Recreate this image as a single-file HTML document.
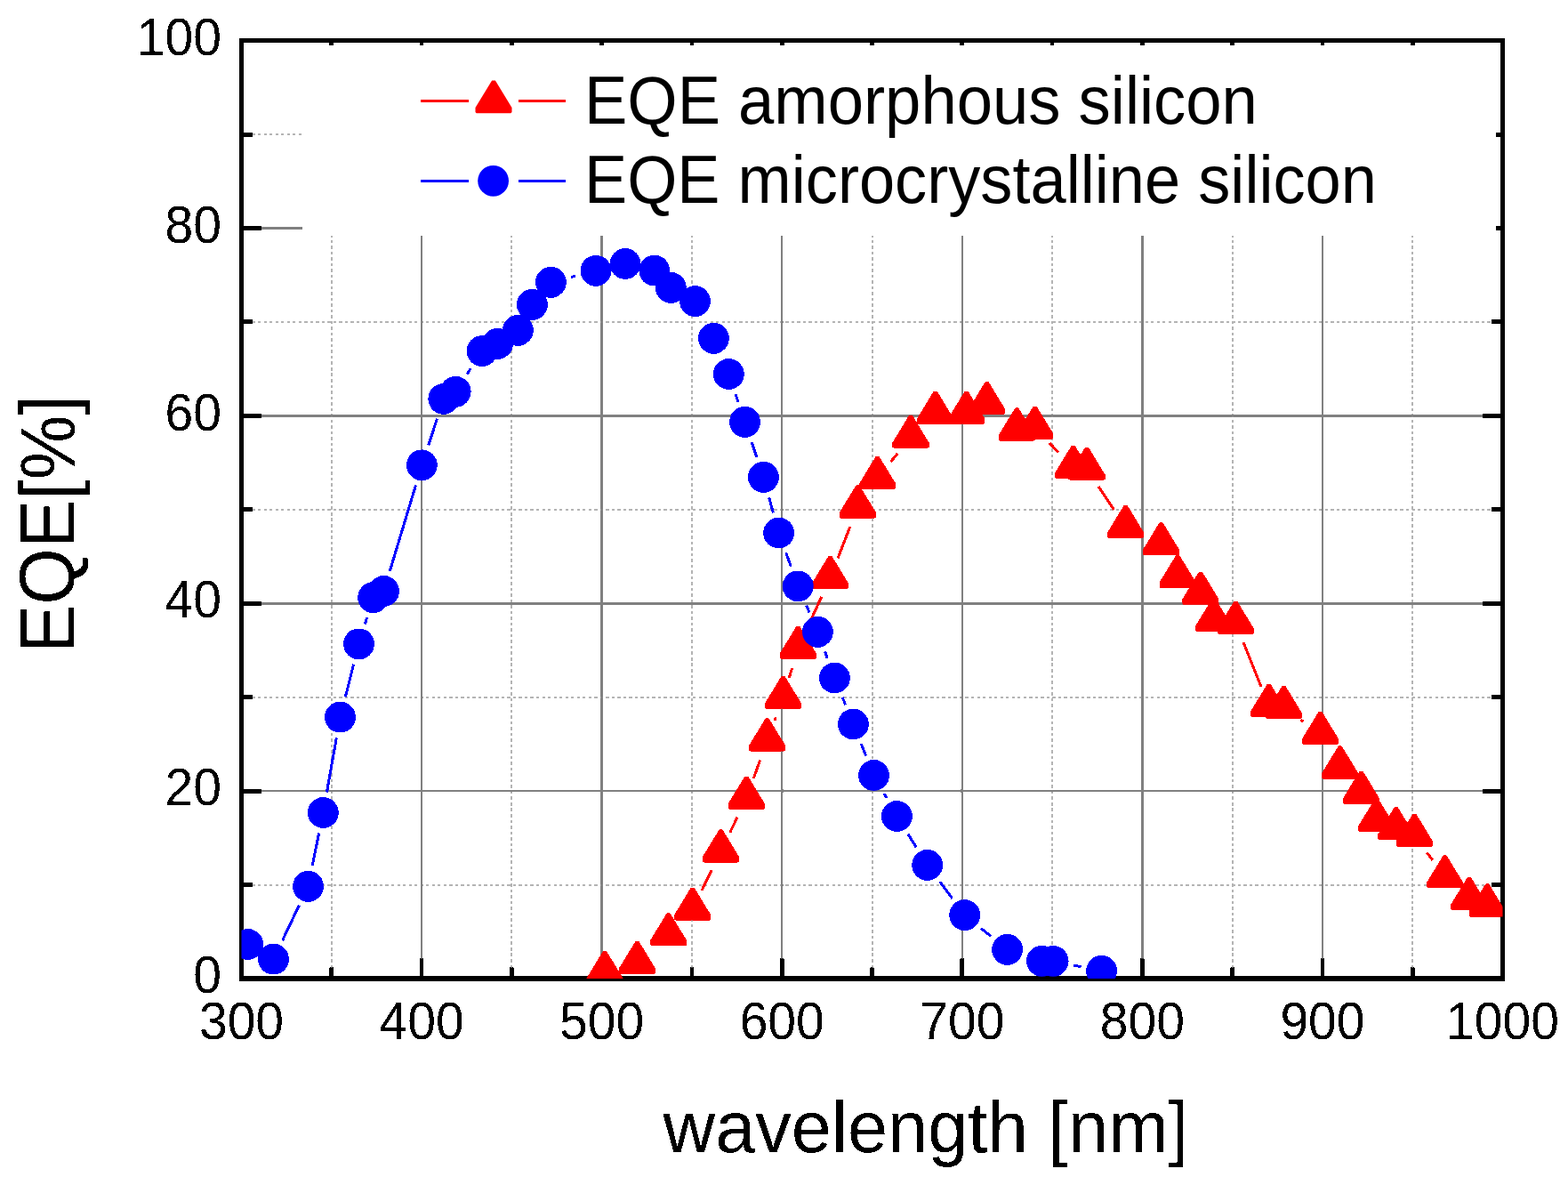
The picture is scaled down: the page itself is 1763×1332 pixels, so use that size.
<!DOCTYPE html>
<html><head><meta charset="utf-8"><title>EQE</title>
<style>html,body{margin:0;padding:0;background:#fff;}svg{display:block;}</style>
</head><body>
<svg width="1763" height="1332" viewBox="0 0 1763 1332">
<defs><filter id="bin" filterUnits="userSpaceOnUse" x="0" y="0" width="1763" height="1332"><feComponentTransfer><feFuncA type="discrete" tableValues="0 1"/></feComponentTransfer></filter><clipPath id="pc"><rect x="271.5" y="45.6" width="1418" height="1054.4"/></clipPath></defs>
<rect width="1763" height="1332" fill="#fff"/>
<g filter="url(#bin)">
<path d="M373 1100V45.6M575 1100V45.6M778 1100V45.6M981 1100V45.6M1183 1100V45.6M1386 1100V45.6M1588 1100V45.6M271.5 995H1689.5M271.5 784H1689.5M271.5 573H1689.5M271.5 362H1689.5M271.5 151H1689.5" stroke="#b4b4b4" stroke-width="2" stroke-dasharray="3.3 3.22" stroke-dashoffset="1" fill="none"/>
<path d="M474.07 45.6V1100M676.64 45.6V1100M879.21 45.6V1100M1081.79 45.6V1100M1284.36 45.6V1100M1486.93 45.6V1100M271.5 889.12H1689.5M271.5 678.24H1689.5M271.5 467.36H1689.5M271.5 256.48H1689.5" stroke="#808080" stroke-width="2.5" fill="none"/>
<path d="M271.5 1100V1077.5M271.5 45.6V68.1M372.79 1100V1087.5M372.79 45.6V58.1M474.07 1100V1077.5M474.07 45.6V68.1M575.36 1100V1087.5M575.36 45.6V58.1M676.64 1100V1077.5M676.64 45.6V68.1M777.93 1100V1087.5M777.93 45.6V58.1M879.21 1100V1077.5M879.21 45.6V68.1M980.5 1100V1087.5M980.5 45.6V58.1M1081.79 1100V1077.5M1081.79 45.6V68.1M1183.07 1100V1087.5M1183.07 45.6V58.1M1284.36 1100V1077.5M1284.36 45.6V68.1M1385.64 1100V1087.5M1385.64 45.6V58.1M1486.93 1100V1077.5M1486.93 45.6V68.1M1588.21 1100V1087.5M1588.21 45.6V58.1M1689.5 1100V1077.5M1689.5 45.6V68.1M271.5 1100H294M1689.5 1100H1667M271.5 994.56H284M1689.5 994.56H1677M271.5 889.12H294M1689.5 889.12H1667M271.5 783.68H284M1689.5 783.68H1677M271.5 678.24H294M1689.5 678.24H1667M271.5 572.8H284M1689.5 572.8H1677M271.5 467.36H294M1689.5 467.36H1667M271.5 361.92H284M1689.5 361.92H1677M271.5 256.48H294M1689.5 256.48H1667M271.5 151.04H284M1689.5 151.04H1677M271.5 45.6H294M1689.5 45.6H1667" stroke="#000" stroke-width="4.8" fill="none"/>
<rect x="340" y="51" width="1342" height="214" fill="#fff"/>
<g fill="#000"><rect x="269" y="42.9" width="1422.9" height="5.1"/><rect x="269" y="1097.05" width="1422.9" height="5.8"/><rect x="268.95" y="42.9" width="4.9" height="1059.95"/><rect x="1686.95" y="42.9" width="4.9" height="1059.95"/></g>
<g><g clip-path="url(#pc)">
<path d="M789.01 1000.98L800.19 978.12M820.7 935.83L829.1 918.37M847.21 875.07L854.69 854.13M870.87 810L872.23 806.4M887.26 761.89L890.54 751.01M907.07 707.13L923.63 670.87M941.94 627.61L955.86 591.89M1001.39 519.23L1009.21 509.57M1180.03 498.01L1190.27 508.49M1235.08 546.83L1252.52 572.87M1398.07 722.3L1417.93 771.7M1462.58 808.98L1465.32 810.92M1604.23 958.23L1610.67 966.97" stroke="#f00" stroke-width="3" fill="none"/>
<g fill="#f00"><polygon points="678.1,1068.95 681.9,1068.95 700.5,1099.5 700.5,1104.6 699.3,1105.85 660.7,1105.85 659.5,1104.6 659.5,1099.5"/><polygon points="714.5,1058.05 718.3,1058.05 736.9,1088.6 736.9,1093.7 735.7,1094.95 697.1,1094.95 695.9,1093.7 695.9,1088.6"/><polygon points="749.7,1026.45 753.5,1026.45 772.1,1057 772.1,1062.1 770.9,1063.35 732.3,1063.35 731.1,1062.1 731.1,1057"/><polygon points="776.8,997.65 780.6,997.65 799.2,1028.2 799.2,1033.3 798,1034.55 759.4,1034.55 758.2,1033.3 758.2,1028.2"/><polygon points="808.6,932.55 812.4,932.55 831,963.1 831,968.2 829.8,969.45 791.2,969.45 790,968.2 790,963.1"/><polygon points="837.4,872.75 841.2,872.75 859.8,903.3 859.8,908.4 858.6,909.65 820,909.65 818.8,908.4 818.8,903.3"/><polygon points="860.7,807.55 864.5,807.55 883.1,838.1 883.1,843.2 881.9,844.45 843.3,844.45 842.1,843.2 842.1,838.1"/><polygon points="878.6,759.95 882.4,759.95 901,790.5 901,795.6 899.8,796.85 861.2,796.85 860,795.6 860,790.5"/><polygon points="895.4,704.05 899.2,704.05 917.8,734.6 917.8,739.7 916.6,740.95 878,740.95 876.8,739.7 876.8,734.6"/><polygon points="931.5,625.05 935.3,625.05 953.9,655.6 953.9,660.7 952.7,661.95 914.1,661.95 912.9,660.7 912.9,655.6"/><polygon points="962.5,545.55 966.3,545.55 984.9,576.1 984.9,581.2 983.7,582.45 945.1,582.45 943.9,581.2 943.9,576.1"/><polygon points="984.7,513.05 988.5,513.05 1007.1,543.6 1007.1,548.7 1005.9,549.95 967.3,549.95 966.1,548.7 966.1,543.6"/><polygon points="1022.1,466.85 1025.9,466.85 1044.5,497.4 1044.5,502.5 1043.3,503.75 1004.7,503.75 1003.5,502.5 1003.5,497.4"/><polygon points="1049.8,439.75 1053.6,439.75 1072.2,470.3 1072.2,475.4 1071,476.65 1032.4,476.65 1031.2,475.4 1031.2,470.3"/><polygon points="1084.7,439.75 1088.5,439.75 1107.1,470.3 1107.1,475.4 1105.9,476.65 1067.3,476.65 1066.1,475.4 1066.1,470.3"/><polygon points="1107.7,429.15 1111.5,429.15 1130.1,459.7 1130.1,464.8 1128.9,466.05 1090.3,466.05 1089.1,464.8 1089.1,459.7"/><polygon points="1141.4,458.55 1145.2,458.55 1163.8,489.1 1163.8,494.2 1162.6,495.45 1124,495.45 1122.8,494.2 1122.8,489.1"/><polygon points="1161.7,456.75 1165.5,456.75 1184.1,487.3 1184.1,492.4 1182.9,493.65 1144.3,493.65 1143.1,492.4 1143.1,487.3"/><polygon points="1204.8,500.85 1208.6,500.85 1227.2,531.4 1227.2,536.5 1226,537.75 1187.4,537.75 1186.2,536.5 1186.2,531.4"/><polygon points="1220.1,502.85 1223.9,502.85 1242.5,533.4 1242.5,538.5 1241.3,539.75 1202.7,539.75 1201.5,538.5 1201.5,533.4"/><polygon points="1263.7,567.95 1267.5,567.95 1286.1,598.5 1286.1,603.6 1284.9,604.85 1246.3,604.85 1245.1,603.6 1245.1,598.5"/><polygon points="1303.6,587.35 1307.4,587.35 1326,617.9 1326,623 1324.8,624.25 1286.2,624.25 1285,623 1285,617.9"/><polygon points="1322.3,624.05 1326.1,624.05 1344.7,654.6 1344.7,659.7 1343.5,660.95 1304.9,660.95 1303.7,659.7 1303.7,654.6"/><polygon points="1348,642.85 1351.8,642.85 1370.4,673.4 1370.4,678.5 1369.2,679.75 1330.6,679.75 1329.4,678.5 1329.4,673.4"/><polygon points="1362.8,672.95 1366.6,672.95 1385.2,703.5 1385.2,708.6 1384,709.85 1345.4,709.85 1344.2,708.6 1344.2,703.5"/><polygon points="1387.4,676.05 1391.2,676.05 1409.8,706.6 1409.8,711.7 1408.6,712.95 1370,712.95 1368.8,711.7 1368.8,706.6"/><polygon points="1424.8,769.05 1428.6,769.05 1447.2,799.6 1447.2,804.7 1446,805.95 1407.4,805.95 1406.2,804.7 1406.2,799.6"/><polygon points="1441.5,770.95 1445.3,770.95 1463.9,801.5 1463.9,806.6 1462.7,807.85 1424.1,807.85 1422.9,806.6 1422.9,801.5"/><polygon points="1482.6,800.05 1486.4,800.05 1505,830.6 1505,835.7 1503.8,836.95 1465.2,836.95 1464,835.7 1464,830.6"/><polygon points="1504.8,838.55 1508.6,838.55 1527.2,869.1 1527.2,874.2 1526,875.45 1487.4,875.45 1486.2,874.2 1486.2,869.1"/><polygon points="1528.6,866.85 1532.4,866.85 1551,897.4 1551,902.5 1549.8,903.75 1511.2,903.75 1510,902.5 1510,897.4"/><polygon points="1545.9,897.75 1549.7,897.75 1568.3,928.3 1568.3,933.4 1567.1,934.65 1528.5,934.65 1527.3,933.4 1527.3,928.3"/><polygon points="1567.8,907.15 1571.6,907.15 1590.2,937.7 1590.2,942.8 1589,944.05 1550.4,944.05 1549.2,942.8 1549.2,937.7"/><polygon points="1588.4,914.85 1592.2,914.85 1610.8,945.4 1610.8,950.5 1609.6,951.75 1571,951.75 1569.8,950.5 1569.8,945.4"/><polygon points="1622.7,961.45 1626.5,961.45 1645.1,992 1645.1,997.1 1643.9,998.35 1605.3,998.35 1604.1,997.1 1604.1,992"/><polygon points="1650,985.95 1653.8,985.95 1672.4,1016.5 1672.4,1021.6 1671.2,1022.85 1632.6,1022.85 1631.4,1021.6 1631.4,1016.5"/><polygon points="1670.3,993.55 1674.1,993.55 1692.7,1024.1 1692.7,1029.2 1691.5,1030.45 1652.9,1030.45 1651.7,1029.2 1651.7,1024.1"/></g>
<path d="M317.6 1056.98L336.4 1017.52M351.17 973.27L358.63 936.53M367.44 890.37L378.36 829.33M388.31 783.43L397.69 746.67M410.43 701.44L412.67 694.16M438.29 642L467.51 545.3M481.65 500.48L491.45 470.72M525.04 420.62L529.16 414.28M642.16 311.45L647.24 310.15M826.82 442.76L829.98 452.14M845.01 496.67L850.89 514.13M864.63 559.06L869.37 576.34M883.6 621.09L889.3 636.81M906.58 680.49L910.12 688.71M927.51 732.36L930.29 739.94M947.2 783.79L950.6 792.21M968.16 835.81L973.74 849.69M994.03 891.98L996.87 897.02M1020.85 937.43L1030.25 952.47M1056.77 991.22L1070.63 1009.78M1102.96 1043.39L1114.34 1052.61M1207.13 1084.99L1215.57 1086.71" stroke="#00f" stroke-width="3" fill="none"/>
<g fill="#00f"><circle cx="278.6" cy="1061.5" r="17.4"/><circle cx="307.5" cy="1078.2" r="17.4"/><circle cx="346.5" cy="996.3" r="17.4"/><circle cx="363.3" cy="913.5" r="17.4"/><circle cx="382.5" cy="806.2" r="17.4"/><circle cx="403.5" cy="723.9" r="17.4"/><circle cx="419.6" cy="671.7" r="17.4"/><circle cx="431.5" cy="664.5" r="17.4"/><circle cx="474.3" cy="522.8" r="17.4"/><circle cx="498.8" cy="448.4" r="17.4"/><circle cx="512.2" cy="440.3" r="17.4"/><circle cx="542" cy="394.6" r="17.4"/><circle cx="559.6" cy="386.3" r="17.4"/><circle cx="582.4" cy="371.3" r="17.4"/><circle cx="598.4" cy="342.4" r="17.4"/><circle cx="619.4" cy="317.3" r="17.4"/><circle cx="670" cy="304.3" r="17.4"/><circle cx="703" cy="296.5" r="17.4"/><circle cx="735.8" cy="304.2" r="17.4"/><circle cx="754.3" cy="323.4" r="17.4"/><circle cx="781.5" cy="338.7" r="17.4"/><circle cx="802.4" cy="380.3" r="17.4"/><circle cx="819.3" cy="420.5" r="17.4"/><circle cx="837.5" cy="474.4" r="17.4"/><circle cx="858.4" cy="536.4" r="17.4"/><circle cx="875.6" cy="599" r="17.4"/><circle cx="897.3" cy="658.9" r="17.4"/><circle cx="919.4" cy="710.3" r="17.4"/><circle cx="938.4" cy="762" r="17.4"/><circle cx="959.4" cy="814" r="17.4"/><circle cx="982.5" cy="871.5" r="17.4"/><circle cx="1008.4" cy="917.5" r="17.4"/><circle cx="1042.7" cy="972.4" r="17.4"/><circle cx="1084.7" cy="1028.6" r="17.4"/><circle cx="1132.6" cy="1067.4" r="17.4"/><circle cx="1171.4" cy="1080.3" r="17.4"/><circle cx="1184.1" cy="1080.3" r="17.4"/><circle cx="1238.6" cy="1091.4" r="17.4"/></g>
</g>
<path d="M473 113.5H527M583 113.5H636" stroke="#f00" stroke-width="3"/>
<polygon points="553.1,90.45 556.9,90.45 575.5,121 575.5,126.1 574.3,127.35 535.7,127.35 534.5,126.1 534.5,121" fill="#f00"/>
<path d="M473 203.5H527M583 203.5H636" stroke="#00f" stroke-width="3"/>
<circle cx="554.6" cy="203.3" r="17.4" fill="#00f"/>
<g>
<text transform="translate(657 138.6) scale(1 1.050)" font-size="72.45" font-family="Liberation Sans, Arial, sans-serif">EQE amorphous silicon</text>
<text transform="translate(657 227.7) scale(1 1.053)" font-size="72.23" font-family="Liberation Sans, Arial, sans-serif">EQE microcrystalline silicon</text>
<text transform="translate(249 1116.2) scale(1 1.025)" font-size="57" text-anchor="end" font-family="Liberation Sans, Arial, sans-serif">0</text>
<text transform="translate(249 905.32) scale(1 1.025)" font-size="57" text-anchor="end" font-family="Liberation Sans, Arial, sans-serif">20</text>
<text transform="translate(249 694.44) scale(1 1.025)" font-size="57" text-anchor="end" font-family="Liberation Sans, Arial, sans-serif">40</text>
<text transform="translate(249 483.56) scale(1 1.025)" font-size="57" text-anchor="end" font-family="Liberation Sans, Arial, sans-serif">60</text>
<text transform="translate(249 272.68) scale(1 1.025)" font-size="57" text-anchor="end" font-family="Liberation Sans, Arial, sans-serif">80</text>
<text transform="translate(249 61.8) scale(1 1.025)" font-size="57" text-anchor="end" font-family="Liberation Sans, Arial, sans-serif">100</text>
<text transform="translate(271.5 1167.9) scale(1 1.025)" font-size="57" text-anchor="middle" font-family="Liberation Sans, Arial, sans-serif">300</text>
<text transform="translate(474.07 1167.9) scale(1 1.025)" font-size="57" text-anchor="middle" font-family="Liberation Sans, Arial, sans-serif">400</text>
<text transform="translate(676.64 1167.9) scale(1 1.025)" font-size="57" text-anchor="middle" font-family="Liberation Sans, Arial, sans-serif">500</text>
<text transform="translate(879.21 1167.9) scale(1 1.025)" font-size="57" text-anchor="middle" font-family="Liberation Sans, Arial, sans-serif">600</text>
<text transform="translate(1081.79 1167.9) scale(1 1.025)" font-size="57" text-anchor="middle" font-family="Liberation Sans, Arial, sans-serif">700</text>
<text transform="translate(1284.36 1167.9) scale(1 1.025)" font-size="57" text-anchor="middle" font-family="Liberation Sans, Arial, sans-serif">800</text>
<text transform="translate(1486.93 1167.9) scale(1 1.025)" font-size="57" text-anchor="middle" font-family="Liberation Sans, Arial, sans-serif">900</text>
<text transform="translate(1689.5 1167.9) scale(1 1.025)" font-size="57" text-anchor="middle" font-family="Liberation Sans, Arial, sans-serif">1000</text>
<text transform="translate(1040.9 1294.9)" font-size="81.14" text-anchor="middle" font-family="Liberation Sans, Arial, sans-serif">wavelength [nm]</text>
<text transform="translate(83 588.9) rotate(-90) scale(1 1.06)" font-size="81.56" text-anchor="middle" font-family="Liberation Sans, Arial, sans-serif">EQE[%]</text>
</g></g>
</g>
</svg>
</body></html>
